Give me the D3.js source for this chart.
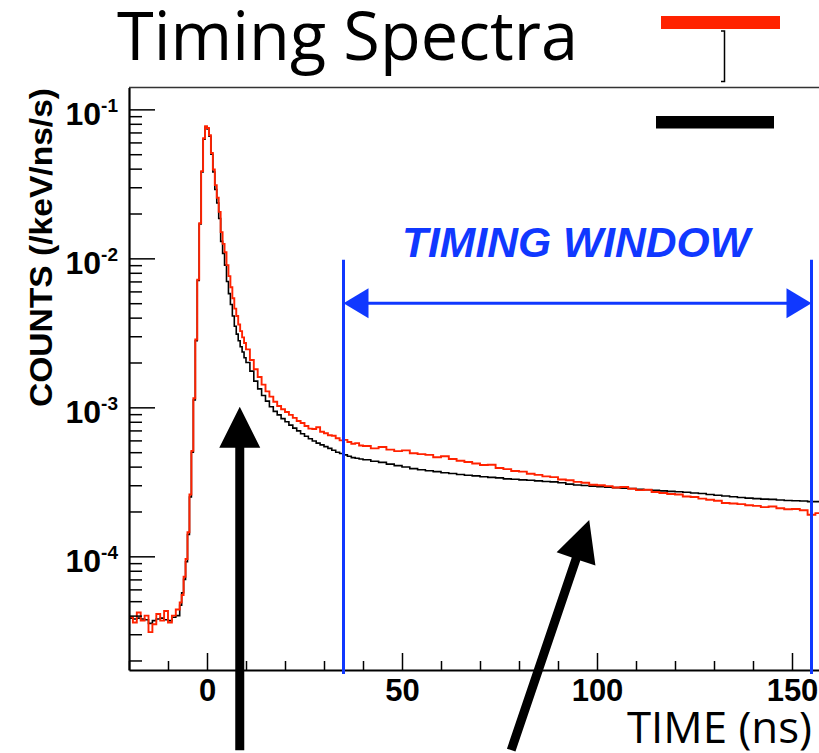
<!DOCTYPE html>
<html><head><meta charset="utf-8">
<script src="https://cdn.jsdelivr.net/npm/d3@7"></script>
<style>html,body{margin:0;padding:0;background:#fff;} svg{display:block;}</style>
</head><body><svg id="c" width="819" height="753"></svg>
<script>
// ---------- data ----------
const binEdges = [
 -20,-19,-18,-17,-16,-15,-14,-13,-12,-11,-10,-9,-8,
 -7,-6.5,-6,-5.5,-5,-4.5,-4,-3.5,-3,-2.5,-2,-1.5,-1,-0.5,0,0.5,1,1.5,2,2.5,3,3.5,4,4.5,5,5.5,6,6.5,7,7.5,8,8.5,9,9.5,
 10,11,12,13,14,15,16,17,18,19,20,21,22,23,24,25,26,27,28,29,30,31,32,33,34,35,36,37,38,39,
 40,42,44,46,48,50,52,54,56,58,60,62,64,66,68,70,72,74,76,78,80,82,84,86,88,90,92,94,96,98,
 100,102,104,106,108,110,112,114,116,118,120,122,124,126,128,130,132,134,136,138,140,142,144,146,148,150,152,154,156,
 158];
const blackCounts = [
 3.85e-5,3.8e-5,3.85e-5,3.8e-5,3.75e-5,3.55e-5,3.7e-5,3.8e-5,3.85e-5,3.75e-5,3.7e-5,3.9e-5,4.0e-5,
 4.7e-5,5.7e-5,7.0e-5,9.2e-5,1.4e-4,2.5e-4,5.0e-4,1.12e-3,2.8e-3,7.1e-3,1.7e-2,3.8e-2,6.3e-2,7.6e-2,
 7.4e-2,6.6e-2,5.0e-2,3.8e-2,2.9e-2,2.35e-2,1.85e-2,1.3e-2,1.08e-2,9.0e-3,7.0e-3,5.8e-3,4.9e-3,4.1e-3,3.5e-3,3.1e-3,2.8e-3,2.55e-3,2.35e-3,2.15e-3,
 2.0e-3,1.75e-3,1.5e-3,1.33e-3,1.2e-3,1.1e-3,1.01e-3,9.4e-4,8.9e-4,8.4e-4,8.0e-4,7.6e-4,7.25e-4,6.95e-4,6.65e-4,6.4e-4,6.15e-4,5.95e-4,5.75e-4,5.6e-4,5.45e-4,5.3e-4,5.15e-4,5.0e-4,4.9e-4,4.8e-4,4.7e-4,4.6e-4,4.55e-4,4.5e-4,
 4.45e-4,4.35e-4,4.27e-4,4.16e-4,4.06e-4,3.98e-4,3.88e-4,3.81e-4,3.75e-4,3.70e-4,3.64e-4,3.60e-4,3.54e-4,3.50e-4,3.47e-4,3.42e-4,3.39e-4,3.36e-4,3.31e-4,3.29e-4,3.26e-4,3.24e-4,3.21e-4,3.18e-4,3.16e-4,3.12e-4,3.05e-4,3.01e-4,2.99e-4,2.96e-4,
 2.93e-4,2.91e-4,2.89e-4,2.87e-4,2.85e-4,2.82e-4,2.80e-4,2.77e-4,2.75e-4,2.73e-4,2.71e-4,2.69e-4,2.66e-4,2.64e-4,2.60e-4,2.57e-4,2.54e-4,2.51e-4,2.48e-4,2.46e-4,2.44e-4,2.42e-4,2.41e-4,2.39e-4,2.37e-4,2.36e-4,2.35e-4,2.33e-4,2.33e-4];
const redCounts = [
 3.9e-5,3.6e-5,4.2e-5,3.7e-5,4.0e-5,3.1e-5,3.5e-5,4.1e-5,3.7e-5,4.3e-5,3.6e-5,4.0e-5,4.4e-5,
 4.9e-5,5.5e-5,7.3e-5,9.6e-5,1.45e-4,2.6e-4,5.1e-4,1.15e-3,2.85e-3,7.2e-3,1.72e-2,3.85e-2,6.4e-2,7.7e-2,
 7.5e-2,6.7e-2,5.1e-2,3.95e-2,3.1e-2,2.55e-2,2.05e-2,1.5e-2,1.25e-2,1.1e-2,9.0e-3,7.6e-3,6.4e-3,5.4e-3,4.6e-3,4.1e-3,3.6e-3,3.25e-3,2.95e-3,2.7e-3,
 2.45e-3,2.08e-3,1.8e-3,1.6e-3,1.42e-3,1.28e-3,1.18e-3,1.09e-3,1.02e-3,9.7e-4,9.3e-4,8.9e-4,8.5e-4,8.1e-4,7.85e-4,7.5e-4,7.2e-4,7.15e-4,7.35e-4,6.85e-4,6.7e-4,6.5e-4,6.45e-4,6.2e-4,6.0e-4,6.05e-4,5.85e-4,5.7e-4,5.75e-4,5.55e-4,
 5.5e-4,5.3e-4,5.42e-4,5.2e-4,5.08e-4,5.14e-4,4.92e-4,4.85e-4,4.8e-4,4.62e-4,4.7e-4,4.5e-4,4.38e-4,4.3e-4,4.2e-4,4.1e-4,4.12e-4,3.92e-4,3.85e-4,3.74e-4,3.7e-4,3.58e-4,3.52e-4,3.44e-4,3.4e-4,3.28e-4,3.24e-4,3.16e-4,3.12e-4,3.02e-4,
 3.0e-4,2.96e-4,2.9e-4,2.92e-4,2.84e-4,2.78e-4,2.8e-4,2.7e-4,2.66e-4,2.62e-4,2.6e-4,2.52e-4,2.5e-4,2.44e-4,2.4e-4,2.36e-4,2.28e-4,2.26e-4,2.24e-4,2.2e-4,2.18e-4,2.14e-4,2.16e-4,2.1e-4,2.07e-4,2.08e-4,2.04e-4,1.9e-4,1.95e-4];

const xMajorTicks = [0, 50, 100, 150];
const xMajorLabels = ["0", "50", "100", "150"];
const xMinorTicks = [-20,-10,10,20,30,40,60,70,80,90,110,120,130,140,160];
const yMajorTicks = [1e-4, 1e-3, 1e-2, 1e-1];
const yMajorLabels = ["-4", "-3", "-2", "-1"];
const timingWindow = [35, 155];
const windowArrowLevel = 5e-3;
const windowLineTop = 9.8e-3;
const titleText = "Timing Spectra";
const xTitle = "TIME (ns)";
const yTitle = "COUNTS (/keV/ns/s)";
const windowLabel = "TIMING WINDOW";
// annotation arrows in data coords: [tFrom, vFrom, tTo, vTo]
const pointerArrows = [[8.4, 5e-6, 8.4, 1.01e-3], [78.0, 5e-6, 98.0, 1.75e-4]];

// ---------- layout ----------
const svg = d3.select("#c");
const L = 129, T = 87.5, B = 670;
const x = d3.scaleLinear().domain([-20, 160]).range([L, L + 180 * 3.9]);
const y = d3.scaleLog().domain([1.726e-5, 0.1402]).range([B, T]);
const blue = "#1038ff", red = "#ff2200";

svg.append("defs").append("clipPath").attr("id", "plotclip")
  .append("rect").attr("x", L).attr("y", T).attr("width", 819 - L).attr("height", B - T);

// title
svg.append("text").attr("x", 117).attr("y", 60)
  .attr("font-family", "'Open Sans', sans-serif").attr("font-size", 67)
  .attr("textLength", 461).attr("lengthAdjust", "spacingAndGlyphs")
  .attr("fill", "#000").text(titleText);

// histograms
const line = d3.line().x(d => x(d[0])).y(d => y(d[1])).curve(d3.curveStepAfter);
function pts(vals) {
  const p = vals.map((v, i) => [binEdges[i], v]);
  p.push([binEdges[vals.length], vals[vals.length - 1]]);
  return p;
}
const g = svg.append("g").attr("clip-path", "url(#plotclip)");
g.append("path").attr("d", line(pts(blackCounts))).attr("fill", "none")
  .attr("stroke", "#000").attr("stroke-width", 1.6);
g.append("path").attr("d", line(pts(redCounts))).attr("fill", "none")
  .attr("stroke", red).attr("stroke-width", 1.9);

// axes
const xMinor = d3.axisBottom(x).tickValues(xMinorTicks).tickSizeInner(-9).tickSizeOuter(0).tickFormat("");
const xMajor = d3.axisBottom(x).tickValues(xMajorTicks).tickSizeInner(-17).tickSizeOuter(0)
  .tickFormat((d, i) => xMajorLabels[i]).tickPadding(9);
svg.append("g").attr("transform", `translate(0,${B})`).call(xMinor)
  .call(s => s.select(".domain").remove()).selectAll("line").attr("stroke-width", 1.5);
const gx = svg.append("g").attr("transform", `translate(0,${B})`).call(xMajor);
gx.select(".domain").attr("stroke-width", 2.2);
gx.selectAll("line").attr("stroke-width", 1.5);
gx.selectAll("text").attr("font-family", "'Liberation Sans', Arial, sans-serif")
  .attr("font-weight", "bold").attr("font-size", 31).attr("fill", "#000");

const yMinorTicks = [];
[-5, -4, -3, -2, -1].forEach(e => { for (let m = 2; m <= 9; m++) { const v = m * Math.pow(10, e); if (v > 1.726e-5 && v < 0.1402) yMinorTicks.push(v); } });
const yMinor = d3.axisLeft(y).tickValues(yMinorTicks).tickSizeInner(-13).tickSizeOuter(0).tickFormat("");
const yMajor = d3.axisLeft(y).tickValues(yMajorTicks).tickSizeInner(-26).tickSizeOuter(0).tickFormat("");
svg.append("g").attr("transform", `translate(${L},0)`).call(yMinor)
  .call(s => s.select(".domain").remove()).selectAll("line").attr("stroke-width", 1.5);
const gy = svg.append("g").attr("transform", `translate(${L},0)`).call(yMajor);
gy.select(".domain").attr("stroke-width", 2.2);
gy.selectAll("line").attr("stroke-width", 1.5);
yMajorTicks.forEach((v, i) => {
  const t = svg.append("text").attr("x", 118).attr("y", y(v) + 15.5).attr("text-anchor", "end")
    .attr("font-family", "'Liberation Sans', Arial, sans-serif").attr("font-weight", "bold")
    .attr("font-size", 32).attr("fill", "#000");
  t.append("tspan").text("10");
  t.append("tspan").attr("dy", -13).attr("font-size", 19).text(yMajorLabels[i]);
});

// top frame line
svg.append("line").attr("x1", L).attr("x2", 819).attr("y1", T).attr("y2", T)
  .attr("stroke", "#333").attr("stroke-width", 1.6);

// axis titles
svg.append("text").attr("transform", `translate(51.5,${(88 + 407) / 2}) rotate(-90)`)
  .attr("text-anchor", "middle").attr("font-family", "'Liberation Sans', Arial, sans-serif")
  .attr("font-weight", "bold").attr("font-size", 32)
  .attr("textLength", 319).attr("lengthAdjust", "spacingAndGlyphs").text(yTitle);
svg.append("text").attr("x", 627).attr("y", 743)
  .attr("font-family", "'Open Sans', sans-serif").attr("font-size", 44)
  .attr("textLength", 185).attr("lengthAdjust", "spacingAndGlyphs").text(xTitle);

// timing window
timingWindow.forEach(t => {
  svg.append("line").attr("x1", x(t)).attr("x2", x(t)).attr("y1", y(windowLineTop)).attr("y2", B + 4)
    .attr("stroke", blue).attr("stroke-width", 3);
});
const ay = y(windowArrowLevel);
const xa = x(timingWindow[0]), xb = x(timingWindow[1]);
svg.append("line").attr("x1", xa + 20).attr("x2", xb - 20).attr("y1", ay).attr("y2", ay)
  .attr("stroke", blue).attr("stroke-width", 3);
svg.append("path").attr("d", `M${xa},${ay} L${xa + 25},${ay - 15} L${xa + 25},${ay + 15} Z`).attr("fill", blue);
svg.append("path").attr("d", `M${xb},${ay} L${xb - 25},${ay - 15} L${xb - 25},${ay + 15} Z`).attr("fill", blue);
svg.append("text").attr("x", 402).attr("y", 256.5)
  .attr("font-family", "'Liberation Sans', Arial, sans-serif").attr("font-weight", "bold")
  .attr("font-style", "italic").attr("font-size", 43).attr("fill", blue)
  .attr("textLength", 348).attr("lengthAdjust", "spacingAndGlyphs").text(windowLabel);

// black pointer arrows
pointerArrows.forEach(a => {
  const x0 = x(a[0]), y0 = y(a[1]), x1 = x(a[2]), y1 = y(a[3]);
  const len = Math.hypot(x1 - x0, y1 - y0), ux = (x1 - x0) / len, uy = (y1 - y0) / len;
  const px = -uy, py = ux, hl = 41, hw = 20.5, sw = 4.5;
  const bx = x1 - ux * hl, by = y1 - uy * hl;
  const d = `M${x0 + px * sw},${y0 + py * sw} L${bx + px * sw},${by + py * sw} L${bx + px * hw},${by + py * hw} L${x1},${y1} L${bx - px * hw},${by - py * hw} L${bx - px * sw},${by - py * sw} L${x0 - px * sw},${y0 - py * sw} Z`;
  svg.append("path").attr("d", d).attr("fill", "#000");
});

// legend marks
svg.append("rect").attr("x", 661).attr("y", 16).attr("width", 119).attr("height", 13).attr("fill", red);
svg.append("rect").attr("x", 656).attr("y", 116).attr("width", 118).attr("height", 12.5).attr("fill", "#000");
svg.append("path").attr("d", "M721,31 H724.5 V81.5 H721").attr("fill", "none").attr("stroke", "#000").attr("stroke-width", 1.5);
</script></body></html>
